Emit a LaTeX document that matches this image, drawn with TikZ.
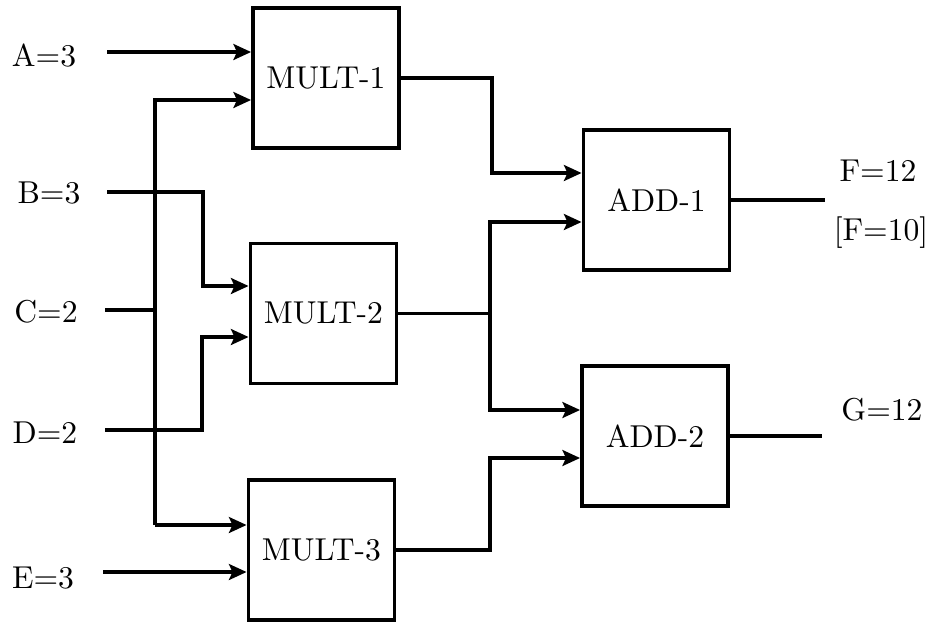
\documentclass[tikz,border=0pt]{standalone}
\usepackage{graphicx}
\usetikzlibrary{arrows.meta}
\newcommand{\bigtxt}[1]{\scalebox{1.8}{\fontsize{10}{12}\selectfont #1}}
\begin{document}
\begin{tikzpicture}[x=0.02cm,y=-0.02cm,
  box/.style={draw, line width=2.2pt, minimum width=2.92cm, minimum height=2.8cm, inner sep=0pt},
  lbl/.style={inner sep=0pt},
  wire/.style={line width=2pt, line join=miter},
  arr/.style={wire, -{Stealth[length=10pt,width=9pt,inset=2pt]}}]
\useasboundingbox (0,0) rectangle (935,623);
% boxes
\node[box] (m1) at (326,78) {\bigtxt{MULT-1}};
\node[box] (m2) at (323.5,313.5) {\bigtxt{MULT-2}};
\node[box] (m3) at (321.5,550) {\bigtxt{MULT-3}};
\node[box] (a1) at (656.5,200) {\bigtxt{ADD-1}};
\node[box] (a2) at (655,436) {\bigtxt{ADD-2}};
% labels
\node[lbl] (la) at (44,56) {\bigtxt{A=3}};
\node[lbl] (lb) at (49,193) {\bigtxt{B=3}};
\node[lbl] (lc) at (46,312) {\bigtxt{C=2}};
\node[lbl] (ld) at (45,433) {\bigtxt{D=2}};
\node[lbl] (le) at (43,578) {\bigtxt{E=3}};
\node[lbl] (lf) at (878,171) {\bigtxt{F=12}};
\node[lbl] (lf2) at (881,233) {\bigtxt{[F=10]}};
\node[lbl] (lg) at (882,410) {\bigtxt{G=12}};
% coordinates
\coordinate (a0) at (107,52);
\coordinate (b0) at (107,192);
\coordinate (b1) at (203,192);
\coordinate (b2) at (203,286);
\coordinate (c0) at (105,310);
\coordinate (d0) at (105,430);
\coordinate (d1) at (202,430);
\coordinate (d2) at (202,337);
\coordinate (e0) at (103,572);
\coordinate (t1) at (155,100);
\coordinate (t2) at (155,525);
\coordinate (p1) at (492,78);
\coordinate (q1) at (492,173);
\coordinate (j) at (490,313.5);
\coordinate (j1) at (490,222);
\coordinate (j2) at (490,410);
\coordinate (k) at (490,550);
\coordinate (k1) at (490,458);
\coordinate (fo) at (825,200);
\coordinate (go) at (822,436);
% input wires
\draw[arr] (a0) -- (a0 -| m1.west);
\draw[arr] (t2) -- (t1) -- (t1 -| m1.west);
\draw[arr] (t2) -- (t2 -| m3.west);
\draw[wire] (c0) -- (c0 -| t1);
\draw[arr] (b0) -- (b1) -- (b2) -- (b2 -| m2.west);
\draw[arr] (d0) -- (d1) -- (d2) -- (d2 -| m2.west);
\draw[arr] (e0) -- (e0 -| m3.west);
% middle wires
\draw[arr] (m1.east) -- (p1) -- (q1) -- (q1 -| a1.west);
\draw[wire] (m2.east) -- (j);
\draw[arr] (j) -- (j1) -- (j1 -| a1.west);
\draw[arr] (j) -- (j2) -- (j2 -| a2.west);
\draw[arr] (m3.east) -- (k) -- (k1) -- (k1 -| a2.west);
% outputs
\draw[wire] (a1.east) -- (fo);
\draw[wire] (a2.east) -- (go);
\end{tikzpicture}
\end{document}
